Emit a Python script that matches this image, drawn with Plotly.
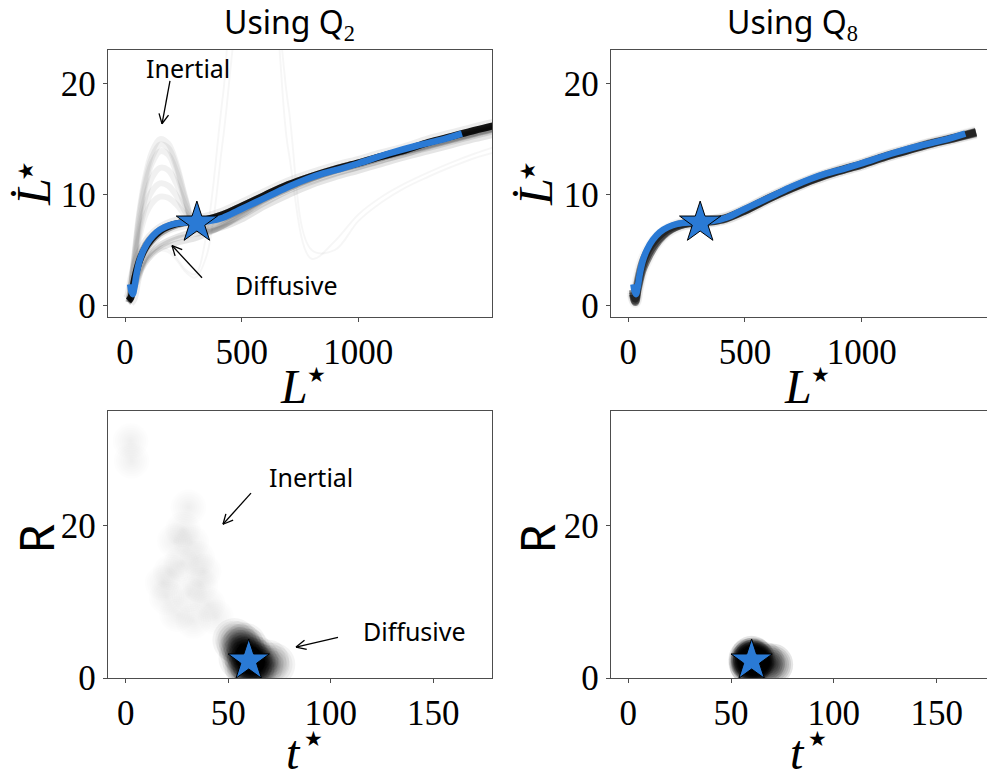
import math
import plotly.graph_objects as go

W, H = 987, 783

# ---------------- phase-space data: L* vs dL*/dt ----------------
L_grid = [15, 25, 40, 60, 85, 115, 150, 185, 220, 260, 300, 350, 420, 500,
          600, 700, 800, 900, 1000, 1100, 1200, 1300, 1400, 1500, 1600]

# dense consensus of the Q2 ensemble
q2_core = [0.4, 0.7, 2.3, 3.9, 5.1, 6.0, 6.7, 7.1, 7.35, 7.5, 7.55, 7.75, 8.2, 8.95,
           9.95, 10.9, 11.65, 12.3, 12.85, 13.45, 14.0, 14.7, 15.25, 15.8, 16.3]
q2_near = [
    [0.3, 0.6, 2.0, 3.6, 4.8, 5.7, 6.4, 6.85, 7.15, 7.35, 7.45, 7.65, 8.1, 8.85,
     9.85, 10.8, 11.55, 12.2, 12.75, 13.35, 13.9, 14.6, 15.15, 15.7, 16.2],
    [0.5, 0.9, 2.7, 4.3, 5.5, 6.3, 6.9, 7.25, 7.45, 7.6, 7.65, 7.85, 8.3, 9.05,
     10.05, 11.0, 11.75, 12.4, 12.95, 13.55, 14.1, 14.75, 15.3, 15.85, 16.35],
]
q2_diffusive = [
    [0.3, 0.5, 1.6, 3.0, 4.1, 4.9, 5.5, 5.9, 6.2, 6.5, 6.75, 7.1, 7.7, 8.5,
     9.6, 10.6, 11.4, 12.1, 12.65, 13.25, 13.8, 14.35, 14.9, 15.45, 15.95],
    [0.2, 0.4, 1.3, 2.6, 3.7, 4.5, 5.1, 5.4, 5.6, 5.8, 6.0, 6.4, 7.1, 8.0,
     9.2, 10.3, 11.1, 11.8, 12.4, 13.0, 13.6, 14.15, 14.7, 15.25, 15.75],
    [0.2, 0.5, 1.5, 2.8, 3.9, 4.7, 5.3, 5.7, 6.0, 6.2, 6.4, 6.6, 7.0, 7.7,
     8.9, 9.9, 10.8, 11.5, 12.1, 12.7, 13.3, 13.85, 14.4, 14.95, 15.45],
]
q2_inertial = [
    [0.3, 1.8, 4.5, 8.2, 11.4, 13.8, 15.0, 14.6, 12.8, 9.6, 7.0, 6.6, 7.2, 8.2,
     9.5, 10.5, 11.4, 12.1, 12.65, 13.25, 13.8, 14.35, 14.9, 15.45, 15.95],
    [0.3, 1.8, 4.4, 8.0, 11.0, 13.3, 14.5, 14.2, 12.5, 9.5, 7.0, 6.6, 7.2, 8.2,
     9.5, 10.5, 11.4, 12.1, 12.65, 13.25, 13.8, 14.35, 14.9, 15.45, 15.95],
    [0.3, 1.7, 4.2, 7.6, 10.6, 12.8, 13.9, 13.6, 12.0, 9.3, 7.1, 6.7, 7.2, 8.2,
     9.5, 10.5, 11.4, 12.1, 12.65, 13.25, 13.8, 14.35, 14.9, 15.45, 15.95],
    [0.3, 1.6, 3.9, 7.0, 9.6, 11.5, 12.4, 12.2, 11.0, 8.9, 7.2, 6.8, 7.3, 8.3,
     9.6, 10.6, 11.45, 12.15, 12.7, 13.3, 13.85, 14.4, 14.95, 15.5, 16.0],
    [0.3, 1.5, 3.7, 6.5, 8.8, 10.3, 11.0, 10.8, 9.9, 8.4, 7.3, 6.9, 7.4, 8.4,
     9.7, 10.7, 11.5, 12.2, 12.75, 13.35, 13.9, 14.45, 15.0, 15.55, 16.05],
    [0.3, 1.4, 3.5, 6.0, 8.0, 9.2, 9.8, 9.7, 9.1, 8.1, 7.3, 7.0, 7.5, 8.5,
     9.7, 10.7, 11.5, 12.2, 12.75, 13.35, 13.9, 14.45, 15.0, 15.55, 16.05],
]
q2_outliers = [
    [0.2, 0.5, 1.5, 2.8, 3.9, 4.7, 5.1, 5.0, 4.3, 3.2, 2.8, 6.5, 19.0, 31.0,
     30.0, 14.0, 4.2, 5.8, 8.2, 9.8, 11.0, 12.0, 12.9, 13.7, 14.4],
    [0.2, 0.5, 1.4, 2.6, 3.7, 4.5, 4.9, 4.8, 4.1, 3.0, 2.5, 4.5, 15.0, 28.0,
     33.0, 18.0, 5.0, 5.0, 7.6, 9.3, 10.6, 11.6, 12.5, 13.3, 13.9],
]

# Q8 ensemble: tight around the fit
L_grid8 = [20, 30, 40, 60, 85, 115, 150, 185, 220, 260, 300, 350, 420, 500,
           600, 700, 800, 900, 1000, 1100, 1200, 1300, 1400, 1490]
q8_members = [
    [1.2, 0.4, 1.6, 3.4, 4.6, 5.6, 6.4, 6.9, 7.2, 7.4, 7.45, 7.55, 7.85, 8.55,
     9.6, 10.55, 11.4, 12.1, 12.7, 13.4, 14.0, 14.6, 15.1, 15.6],
    [1.4, 0.6, 2.0, 3.8, 5.0, 5.9, 6.6, 7.05, 7.3, 7.45, 7.5, 7.6, 7.9, 8.6,
     9.65, 10.6, 11.45, 12.15, 12.75, 13.45, 14.05, 14.65, 15.15, 15.65],
    [1.0, 0.3, 1.4, 3.1, 4.3, 5.4, 6.3, 6.85, 7.2, 7.4, 7.45, 7.55, 7.85, 8.55,
     9.6, 10.55, 11.4, 12.1, 12.7, 13.4, 14.0, 14.6, 15.1, 15.55],
]

# model fit (same in both columns) and its reference point
L_fit = [22, 27, 33, 40, 50, 62, 80, 105, 135, 170, 210, 260, 308, 360, 420, 490,
         560, 630, 700, 780, 850, 920, 1000, 1130, 1250, 1350, 1444]
Ld_fit = [1.9, 1.3, 1.0, 1.6, 2.9, 4.0, 5.0, 5.9, 6.6, 7.05, 7.35, 7.48, 7.5, 7.6,
          7.9, 8.6, 9.3, 10.0, 10.7, 11.4, 11.9, 12.3, 12.8, 13.7, 14.4, 14.9, 15.5]
L_star, Ld_star = 308, 7.45

# ---------------- t* vs R data ----------------
q2_inert_t = [2.4, 2.9, 30.6, 28.0, 32.0, 35.0, 22.0, 27.0, 36.4, 20.0, 40.0, 25.0,
              31.0, 24.0, 38.0, 18.0, 44.0, 33.0]
q2_inert_R = [31.1, 28.5, 22.4, 19.5, 17.8, 15.7, 13.9, 15.0, 12.2, 10.6, 9.7, 8.4,
              11.0, 18.0, 14.0, 12.5, 8.0, 7.5]
q2_diff_t = [53, 55, 56, 57, 58, 58, 59, 59, 60, 60, 60, 61, 61, 62, 62, 63, 64,
             56, 58, 60, 62, 64, 66, 69, 72]
q2_diff_R = [5.0, 4.6, 3.8, 4.2, 3.2, 2.0, 2.6, 1.4, 2.3, 3.0, 1.2, 2.0, 2.8, 1.6,
             2.4, 1.2, 1.8, 2.6, 4.4, 3.6, 1.0, 2.6, 1.6, 2.2, 1.8]
q8_t = [59.0, 60.0, 61.0, 60.0, 59.5, 61.0, 60.5, 59.0, 61.5, 66.0, 70.0]
q8_R = [2.5, 2.3, 2.0, 2.8, 1.8, 2.6, 2.2, 2.0, 2.4, 2.0, 1.8]
t_star, R_star = 60.0, 2.3

BLUE = "#2a7ad5"
AXC = "#4d4d4d"

fig = go.Figure()


def line(x, y, ax, color, width):
    fig.add_trace(go.Scatter(x=x, y=y, mode="lines", xaxis="x" + ax, yaxis="y" + ax,
                             line=dict(color=color, width=width, shape="spline",
                                       smoothing=1.0),
                             hoverinfo="skip", showlegend=False))


def blobs(x, y, ax, alpha, size, layers):
    # stacked translucent discs of shrinking size give each point a soft falloff
    for k in range(layers):
        s = size * (1 - k / layers)
        fig.add_trace(go.Scatter(x=x, y=y, mode="markers", xaxis="x" + ax,
                                 yaxis="y" + ax,
                                 marker=dict(size=s, color="rgba(0,0,0,%.3f)" % alpha,
                                             line=dict(width=0)),
                                 hoverinfo="skip", showlegend=False))


def star(x, y, ax):
    fig.add_trace(go.Scatter(x=[x], y=[y], mode="markers", xaxis="x" + ax,
                             yaxis="y" + ax,
                             marker=dict(symbol="star", size=31, color=BLUE,
                                         line=dict(color="black", width=1)),
                             hoverinfo="skip", showlegend=False))


# --- top left: Q2 trajectories ---
for ys in q2_outliers:
    line(L_grid, ys, "", "rgba(0,0,0,0.035)", 2)
for ys in q2_inertial:
    line(L_grid, ys, "", "rgba(0,0,0,0.055)", 6)
for ys in q2_diffusive:
    line(L_grid, ys, "", "rgba(0,0,0,0.1)", 5)
line(L_grid, q2_core, "", "rgba(0,0,0,0.07)", 14)
for ys in q2_near:
    line(L_grid, ys, "", "rgba(0,0,0,0.3)", 5)
line(L_grid, q2_core, "", "rgba(0,0,0,0.88)", 7)
line(L_fit, Ld_fit, "", BLUE, 6.5)
star(L_star, Ld_star, "")

# --- top right: Q8 trajectories ---
for ys in q8_members:
    line(L_grid8, ys, "2", "rgba(0,0,0,0.04)", 12)
for ys in q8_members:
    line(L_grid8, ys, "2", "rgba(0,0,0,0.45)", 8)
line(L_fit, Ld_fit, "2", BLUE, 6.5)
star(L_star, Ld_star, "2")

# --- bottom left: Q2 (t*, R) ---
blobs(q2_inert_t, q2_inert_R, "3", 0.009, 36, 8)
blobs(q2_diff_t, q2_diff_R, "3", 0.045, 44, 8)
star(t_star, R_star, "3")

# --- bottom right: Q8 (t*, R) ---
blobs(q8_t, q8_R, "4", 0.1, 42, 10)
star(t_star, R_star, "4")


def px(x):
    return x / W


def py(y):
    return 1 - y / H


tickfont = dict(family="Liberation Serif", size=35, color="black")


def axis(domain, rng, ticks, anchor, mirror=True):
    return dict(domain=domain, range=rng, tickvals=ticks, anchor=anchor,
                showline=True, mirror=mirror, linecolor=AXC, linewidth=1.4,
                ticks="outside", ticklen=4, tickwidth=1, tickcolor=AXC,
                showgrid=False, zeroline=False, tickfont=tickfont, fixedrange=True)


left = [px(108), px(492)]
right = [px(611), 1.0]
top = [py(325), py(51)]
bottom = [py(696), py(422)]

fig.update_layout(
    width=W, height=H, margin=dict(l=0, r=0, t=0, b=0),
    paper_bgcolor="white", plot_bgcolor="white",
    xaxis=axis(left, [-73, 1573], [0, 500, 1000], "y"),
    yaxis=axis(top, [-1.03, 23.07], [0, 10, 20], "x"),
    xaxis2=axis(right, [-74, 1537], [0, 500, 1000], "y2"),
    yaxis2=axis(top, [-1.03, 23.07], [0, 10, 20], "x2", mirror=False),
    xaxis3=axis(left, [-8.6, 178.6], [0, 50, 100, 150], "y3"),
    yaxis3=axis(bottom, [0, 35], [0, 20], "x3"),
    xaxis4=axis(right, [-8.4, 174.5], [0, 50, 100, 150], "y4"),
    yaxis4=axis(bottom, [0, 35], [0, 20], "x4", mirror=False),
)

ann = []


def text(x, y, s, size, family, angle=0):
    ann.append(dict(x=px(x), y=py(y), xref="paper", yref="paper", text=s,
                    showarrow=False, textangle=angle, xanchor="center",
                    yanchor="middle",
                    font=dict(family=family, size=size, color="black")))


SANS = "Noto Sans"
SERIF = "Liberation Serif"
sub = '<sub><span style="font-family:Liberation Serif">{}</span></sub>'

text(289, 24, "Using Q" + sub.format("2"), 32, SANS)
text(792, 24, "Using Q" + sub.format("8"), 32, SANS)

# axis titles: italic symbol plus a separate star superscript
for dx in (0, 502):
    text(34 + dx, 197, "<i>L\u0307</i>", 48, SERIF, -90)
    text(26 + dx, 176, "\u2605", 21, "DejaVu Sans", -90)
for dx in (0, 504):
    text(294 + dx, 397, "<i>L</i>", 48, SERIF)
    text(316 + dx, 385, "\u2605", 21, "DejaVu Sans")
    text(293 + dx, 772, "<i>t</i>", 48, SERIF)
    text(313 + dx, 758, "\u2605", 21, "DejaVu Sans")
text(36, 553, "R", 48, SANS, -90)
text(537, 553, "R", 48, SANS, -90)

text(188, 70, "Inertial", 25, SANS)
text(286, 292, "Diffusive", 25, SANS)
text(311, 490, "Inertial", 25, SANS)
text(414, 648, "Diffusive", 25, SANS)

fig.update_layout(annotations=ann)

shapes = []


def arrow(x0, y0, x1, y1, head=11, ang=26):
    shapes.append(dict(type="line", xref="paper", yref="paper",
                       x0=px(x0), y0=py(y0), x1=px(x1), y1=py(y1),
                       line=dict(color="black", width=1.3)))
    dx, dy = x1 - x0, y1 - y0
    n = math.hypot(dx, dy)
    ux, uy = dx / n, dy / n
    for s in (1, -1):
        a = math.radians(ang) * s
        bx = ux * math.cos(a) - uy * math.sin(a)
        by = ux * math.sin(a) + uy * math.cos(a)
        shapes.append(dict(type="line", xref="paper", yref="paper",
                           x0=px(x1), y0=py(y1),
                           x1=px(x1 - head * bx), y1=py(y1 - head * by),
                           line=dict(color="black", width=1.3)))


arrow(170, 83, 162, 127)
arrow(202, 285, 172, 252)
arrow(251, 506, 223, 538)
arrow(338, 654, 296, 664)

fig.update_layout(shapes=shapes)

fig.write_html("out.html")
